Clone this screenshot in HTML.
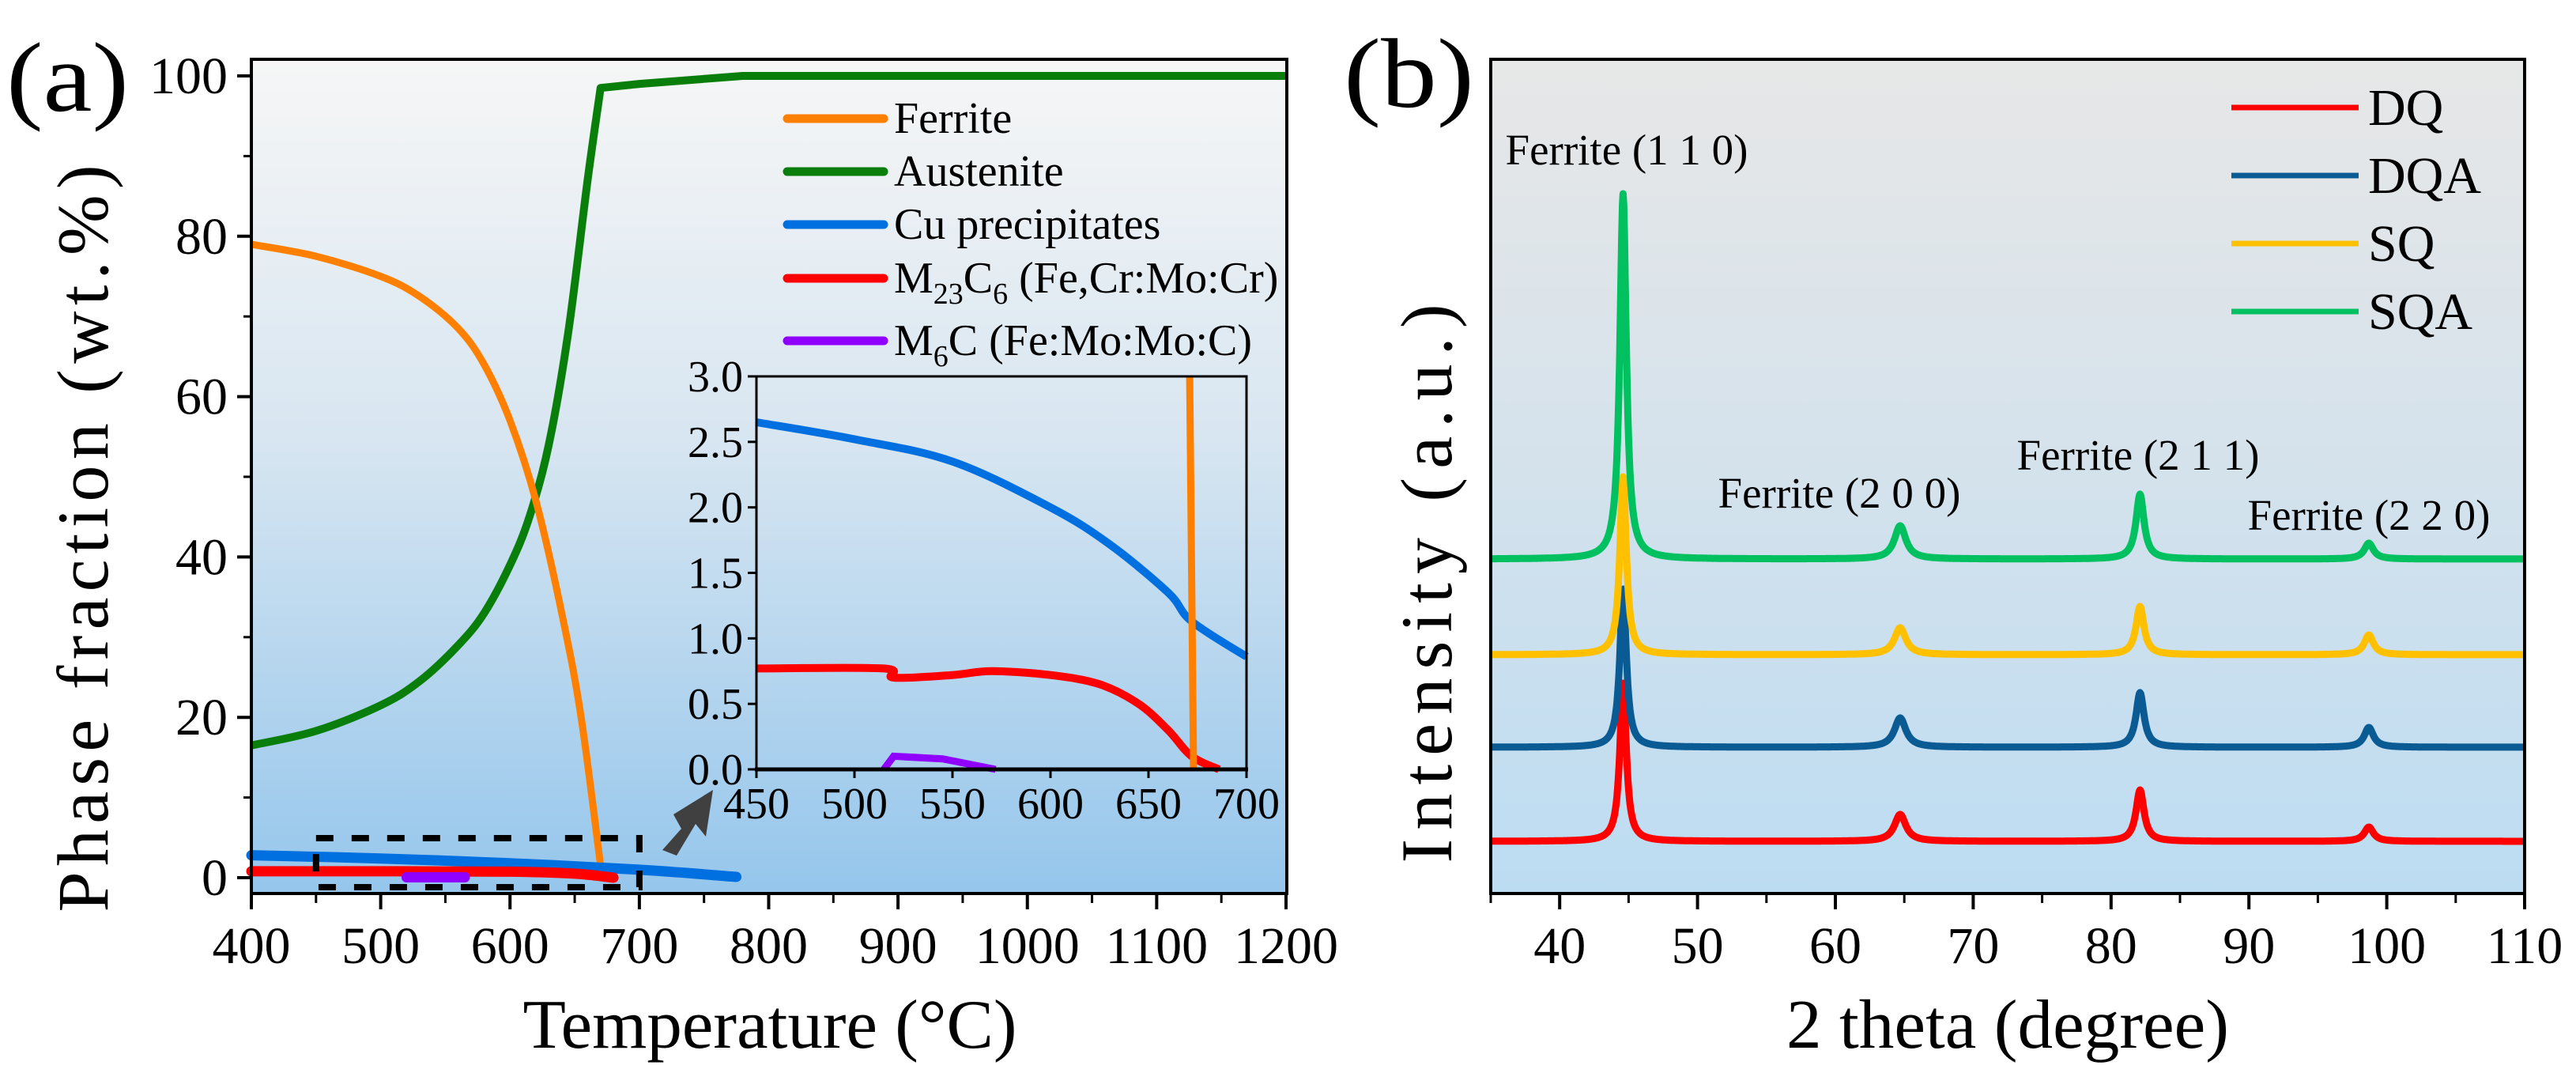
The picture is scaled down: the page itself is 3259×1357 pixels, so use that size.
<!DOCTYPE html>
<html><head><meta charset="utf-8">
<style>
html,body{margin:0;padding:0;background:#fff;}
svg, svg text{font-family:"Liberation Serif","Times New Roman",serif;}
</style></head>
<body>
<svg id="fig" width="3259" height="1352" viewBox="0 0 3259 1352" xmlns="http://www.w3.org/2000/svg" font-family="Liberation Serif, serif">
<defs>
<linearGradient id="gA" x1="0" y1="0" x2="0" y2="1">
<stop offset="0" stop-color="#f6f6f6"/><stop offset="0.45" stop-color="#d8e6f1"/><stop offset="1" stop-color="#95c6ec"/>
</linearGradient>
<linearGradient id="gB" x1="0" y1="0" x2="0" y2="1">
<stop offset="0" stop-color="#e7e7e7"/><stop offset="0.5" stop-color="#d4e2ec"/><stop offset="1" stop-color="#bcdcf2"/>
</linearGradient>
</defs>
<g id="panelA">
<rect x="318" y="75" width="1310" height="1055" fill="url(#gA)"/>
<text x="8" y="140" font-size="125" textLength="155" lengthAdjust="spacingAndGlyphs">(a)</text>
</g>
<g id="panelB">
<rect x="1886" y="75" width="1308" height="1055" fill="url(#gB)"/>
<text x="1700" y="135" font-size="125" textLength="165" lengthAdjust="spacingAndGlyphs">(b)</text>
</g>
</svg>
<script>
// ===== Panel (a) data =====
const ferriteT = [400,450,500,530,560,580,600,620,640,655,670];
const ferriteV = [79,77.5,75,72.5,68.5,64,57,47,33,20,1.5];
const austeniteT = [400,450,500,530,560,580,600,615,630,645,660,670,700,780,1200];
const austeniteV = [16.5,18.3,21.5,24.5,29,33,39,45,54,68,87,98.5,99,100,100];
const cuT = [400,500,600,700,775];
const cuV = [2.8,2.4,1.8,1.0,0.1];
const m23T = [400,500,600,650,680];
const m23V = [0.8,0.8,0.75,0.5,0.0];
const m6cT = [520,565];
const m6cV = [0.05,0.05];
const xTicksA = [400,500,600,700,800,900,1000,1100,1200];
const yTicksA = [0,20,40,60,80,100];
// inset
const insCuT = [450,500,550,600,630,660,672,700];
const insCuV = [2.65,2.52,2.35,2.0,1.72,1.35,1.13,0.86];
const insM23T = [450,515,520,550,570,600,625,645,660,672,686];
const insM23V = [0.77,0.77,0.7,0.72,0.75,0.72,0.65,0.5,0.3,0.1,0.0];
const insM6cT = [515,520,545,572];
const insM6cV = [0,0.1,0.08,0];
const insFerT = [671,673];
const insFerV = [3.0,0.0];
const xTicksIns = [450,500,550,600,650,700];
const yTicksIns = ["0.0","0.5","1.0","1.5","2.0","2.5","3.0"];
const legendA = ["Ferrite","Austenite","Cu precipitates","M23C6","M6C"];
// ===== Panel (b) data =====
const samples = ["DQ","DQA","SQ","SQA"];
const peakPos = [44.6,64.7,82.1,98.7];
const peakLabels = ["Ferrite (1 1 0)","Ferrite (2 0 0)","Ferrite (2 1 1)","Ferrite (2 2 0)"];
const offsets = [1064,945,828,707];
const hDQ = [200,34,65,18];
const hDQA = [200,37,69,25];
const hSQ = [225,34,61,25];
const hSQA = [462,42,82,20];
const xTicksB = [40,50,60,70,80,90,100,110];

const NS="http://www.w3.org/2000/svg";
const svg=document.getElementById('fig');
const FF='"Liberation Serif", "Times New Roman", serif';
function mk(tag,attrs,parent){const e=document.createElementNS(NS,tag);for(const k in attrs)e.setAttribute(k,attrs[k]);if(tag==='text')e.setAttribute('font-family',FF);(parent||svg).appendChild(e);return e;}
const xA=t=>318+(t-400)*(1309/800);
const yA=v=>1110-v*10.14;
const xI=t=>957+(t-450)*(620/250);
const yI=v=>973-v*(497/3);
const xB=t=>1886+(t-35)*(1308/75);

function path(T,V,fx,fy){return T.map((t,i)=>(i?'L':'M')+fx(t).toFixed(1)+' '+fy(V[i]).toFixed(1)).join(' ');}
function smooth(T,V,fx,fy,n){
  n = n||T.length;
  const P=T.map((t,i)=>[fx(t),fy(V[i])]);
  let d='M'+P[0][0].toFixed(1)+' '+P[0][1].toFixed(1);
  for(let i=0;i<P.length-1;i++){
    const p2=P[i+1];
    if(i+1>=n){ d+=' L'+p2[0].toFixed(1)+' '+p2[1].toFixed(1); continue; }
    const last=n-1;
    const p0=P[Math.max(0,i-1)],p1=P[i],p3=P[Math.min(last,i+2)];
    const c1=[p1[0]+(p2[0]-p0[0])/6,p1[1]+(p2[1]-p0[1])/6];
    const c2=[p2[0]-(p3[0]-p1[0])/6,p2[1]-(p3[1]-p1[1])/6];
    d+=' C'+c1[0].toFixed(1)+' '+c1[1].toFixed(1)+' '+c2[0].toFixed(1)+' '+c2[1].toFixed(1)+' '+p2[0].toFixed(1)+' '+p2[1].toFixed(1);
  }
  return d;
}

const gA=document.getElementById('panelA');
let p;
p=mk('path',{d:smooth(austeniteT,austeniteV,xA,yA,12),stroke:'#0a7e0a',fill:'none','stroke-width':10,'stroke-linejoin':'round'},gA);


p=mk('path',{d:smooth(ferriteT,ferriteV,xA,yA),stroke:'#ff8000',fill:'none','stroke-width':9,'stroke-linejoin':'round'},gA);


p=mk('path',{d:smooth(cuT,cuV,xA,yA),stroke:'#0070e0',fill:'none','stroke-width':13,'stroke-linecap':'round'},gA);


p=mk('path',{d:smooth(m23T,m23V,xA,yA),stroke:'#ff0000',fill:'none','stroke-width':13,'stroke-linecap':'round'},gA);


p=mk('path',{d:path(m6cT,m6cV,xA,yA),stroke:'#9000ff',fill:'none','stroke-width':13,'stroke-linecap':'round'},gA);


p=mk('rect',{x:xA(450),y:1060,width:xA(700)-xA(450),height:62,fill:'none',stroke:'#000','stroke-width':8,'stroke-dasharray':'22 23'},gA);


p=mk('polygon',{points:'838,1075 862,1048 852,1030 902,999 893,1058 880,1042 856,1082',fill:'#404040'},gA);


p=mk('path',{d:'M318 75 L1628 75 L1628 1130 L318 1130 Z',fill:'none',stroke:'#000','stroke-width':4},gA);


xTicksA.forEach((t,i)=>{
  const x=xA(t);
  let l=mk('line',{x1:x,y1:1130,x2:x,y2:1150,stroke:'#000','stroke-width':4},gA);
  
  
  if(i<xTicksA.length-1){let m=mk('line',{x1:xA(t+50),y1:1130,x2:xA(t+50),y2:1142,stroke:'#000','stroke-width':3},gA);
  
  }
  let tx=mk('text',{x:x,y:1218,'font-size':66,'text-anchor':'middle'},gA);tx.textContent=t;
  
  
});
yTicksA.forEach((v,i)=>{
  const y=yA(v);
  let l=mk('line',{x1:300,y1:y,x2:318,y2:y,stroke:'#000','stroke-width':4},gA);
  
  
  if(i<yTicksA.length-1){let m=mk('line',{x1:308,y1:yA(v+10),x2:318,y2:yA(v+10),stroke:'#000','stroke-width':3},gA);
  
  }
  let tx=mk('text',{x:288,y:y+22,'font-size':66,'text-anchor':'end'},gA);tx.textContent=v;
  
  
});
let t1=mk('text',{x:974,y:1325,'font-size':88,'text-anchor':'middle',textLength:625,lengthAdjust:'spacingAndGlyphs'},gA);
t1.textContent='Temperature (°C)';


let t2=mk('text',{x:0,y:0,'font-size':92,'text-anchor':'middle',textLength:945,lengthAdjust:'spacing',transform:'translate(136,681) rotate(-90)'},gA);
t2.textContent='Phase fraction (wt.%)';


const legCols=['#ff8000','#0a7e0a','#0070e0','#ff0000','#9000ff'];
const legY=[150,217,284,352,431];
legendA.forEach((n,i)=>{
  let l=mk('line',{x1:996,y1:legY[i],x2:1118,y2:legY[i],stroke:legCols[i],'stroke-width':11,'stroke-linecap':'round'},gA);
  
  
  let tx=mk('text',{x:1131,y:legY[i]+18,'font-size':56},gA);
  
  
  if(n==='M23C6'){tx.innerHTML='M<tspan font-size="38" dy="14">23</tspan><tspan dy="-14">C</tspan><tspan font-size="38" dy="14">6</tspan><tspan dy="-14"> (Fe,Cr:Mo:Cr)</tspan>';}
  else if(n==='M6C'){tx.innerHTML='M<tspan font-size="38" dy="14">6</tspan><tspan dy="-14">C (Fe:Mo:Mo:C)</tspan>';}
  else tx.textContent=n;
});
p=mk('path',{d:smooth(insCuT,insCuV,xI,yI),stroke:'#0070e0',fill:'none','stroke-width':10},gA);


p=mk('path',{d:smooth(insM23T,insM23V,xI,yI),stroke:'#ff0000',fill:'none','stroke-width':10},gA);


p=mk('path',{d:path(insM6cT,insM6cV,xI,yI),stroke:'#9000ff',fill:'none','stroke-width':9},gA);


p=mk('path',{d:path(insFerT,insFerV,xI,yI),stroke:'#ff8000',fill:'none','stroke-width':9},gA);


p=mk('rect',{x:957,y:476,width:620,height:497,fill:'none',stroke:'#000','stroke-width':3},gA);


p=mk('line',{x1:955,y1:973,x2:1579,y2:973,stroke:'#000','stroke-width':5},gA);


xTicksIns.forEach(t=>{
  let l=mk('line',{x1:xI(t),y1:973,x2:xI(t),y2:984,stroke:'#000','stroke-width':3},gA);
  
  
  let tx=mk('text',{x:xI(t),y:1035,'font-size':56,'text-anchor':'middle'},gA);tx.textContent=t;
  
  
});
yTicksIns.forEach(s=>{
  const y=yI(parseFloat(s));
  let l=mk('line',{x1:946,y1:y,x2:957,y2:y,stroke:'#000','stroke-width':3},gA);
  
  
  let tx=mk('text',{x:940,y:y+19,'font-size':56,'text-anchor':'end'},gA);tx.textContent=s;
  
  
});

// ===== Panel (b) =====
const gB=document.getElementById('panelB');
const cols=['#ff0000','#0a5b94','#ffc000','#00c060'];
const heights=[hDQ,hDQA,hSQ,hSQA];
const widths=[0.35,0.5,0.35,0.4];
samples.forEach((s,k)=>{
  let d='';
  for(let tt=35;tt<=110.0001;tt+=0.05){
    let v=0;
    peakPos.forEach((pp,j)=>{const w=widths[j]*(j===0?0.8:1);v+=heights[k][j]/(1+((tt-pp)/w)**2);});
    d+=(d?'L':'M')+xB(tt).toFixed(1)+' '+(offsets[k]-v).toFixed(1)+' ';
  }
  let l=mk('path',{d:d,stroke:cols[k],fill:'none','stroke-width':9,'stroke-linejoin':'round'},gB);
  
  
});
const plX=[2058,2327,2705,2997];
const plY=[208,642,594,670];
peakLabels.forEach((s,i)=>{
  let tx=mk('text',{x:plX[i],y:plY[i],'font-size':55,'text-anchor':'middle'},gB);tx.textContent=s;
  
  
});
p=mk('rect',{x:1886,y:75,width:1308,height:1055,fill:'none',stroke:'#000','stroke-width':4},gB);


xTicksB.forEach((t,i)=>{
  const x=xB(t);
  let l=mk('line',{x1:x,y1:1130,x2:x,y2:1150,stroke:'#000','stroke-width':4},gB);
  
  
  let m=mk('line',{x1:xB(t-5),y1:1130,x2:xB(t-5),y2:1142,stroke:'#000','stroke-width':3},gB);
  
  
  let tx=mk('text',{x:x,y:1218,'font-size':66,'text-anchor':'middle'},gB);tx.textContent=t;
  
  
});
let t3=mk('text',{x:2540,y:1325,'font-size':88,'text-anchor':'middle',textLength:560,lengthAdjust:'spacingAndGlyphs'},gB);
t3.textContent='2 theta (degree)';


let t4=mk('text',{x:0,y:0,'font-size':92,'text-anchor':'middle',textLength:707,lengthAdjust:'spacing',transform:'translate(1836,738) rotate(-90)'},gB);
t4.textContent='Intensity (a.u.)';


const legYB=[136,222,308,394];
samples.forEach((s,i)=>{
  let l=mk('line',{x1:2823,y1:legYB[i],x2:2984,y2:legYB[i],stroke:cols[i],'stroke-width':7},gB);
  
  
  let tx=mk('text',{x:2996,y:legYB[i]+22,'font-size':66},gB);tx.textContent=s;
  
  
});
</script>
</body></html>
